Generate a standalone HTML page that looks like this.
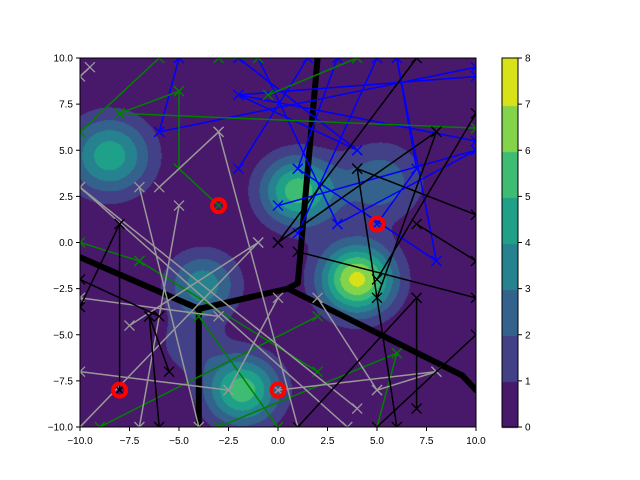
<!DOCTYPE html>
<html><head><meta charset="utf-8"><style>
body{margin:0;background:#fff;width:640px;height:480px;overflow:hidden;font-family:"Liberation Sans",sans-serif}
#wrap{position:relative;width:640px;height:480px}
canvas,svg{position:absolute;left:0;top:0}
</style></head><body>
<div id="wrap">
<canvas id="cv" width="640" height="480"></canvas>
<svg id="sv" width="640" height="480"></svg>
</div>
<script>
// ---- data ----
const blobX=[-8.5,1.0,5.2,4.0,-3.8,-1.8,-4.5];
const blobY=[4.7,2.8,3.3,-2.0,-2.3,-8.0,-5.5];
const blobAmp=[4.6,5.6,2.7,7.3,3.6,5.6,1.6];
const blobSig=[1.5,1.35,1.5,1.35,1.3,1.35,1.1];
const levels=[0,1,2,3,4,5,6,7,8];
const levelColors=["#48186a","#424086","#33638d","#26828e","#1fa088","#3fbc73","#84d44b","#d8e219"];
const xTicks=[-10,-7.5,-5,-2.5,0,2.5,5,7.5,10];
const yTicks=[-10,-7.5,-5,-2.5,0,2.5,5,7.5,10];
const cbTicks=[0,1,2,3,4,5,6,7,8];
const ridge=[[-10,-0.8,-4,-3.6],[-4,-3.6,-4,-10],[-4,-3.6,0.5,-2.5],[0.5,-2.5,1,-2.2],[1,-2.2,2,10],[0.5,-2.5,9.3,-7.2],[9.3,-7.2,10,-8]];
const segs=[
[-5,10,-6,6,"blue"],[-6,6,10,9.5,"blue"],[-2,8,10,5.5,"blue"],[-2,8,10,9,"blue"],[-2,4,1.5,10,"blue"],[1,4,3,10,"blue"],[0,2,10,5,"blue"],[3,1,-1,10,"blue"],[3,1,10,5,"blue"],[4,5,-2,10,"blue"],[5,1,7,4,"blue"],[7,4,6,10,"blue"],[8,-1,1,4,"blue"],[8,-1,6,10,"blue"],[-2,8,4,5,"blue"],[1,0.5,5,10,"blue"],
[-10,6,-6,10,"green"],[-8,7,10,6.2,"green"],[-8,7,-5,8.2,"green"],[-5,8.2,-5,4,"green"],[-5,4,-3,2,"green"],[-10,0,-7,-1,"green"],[-7,-1,2,-7,"green"],[-9,-10,2,-4,"green"],[-3,-10,6,-6,"green"],[6,-6,5,-10,"green"],[-4,-4,0,-10,"green"],[-0.5,8,4,10,"green"],[-3,10,-1,10,"green"],
[-10,3,3.5,-10,"grey"],[-10,3,4,-9,"grey"],[-6,3,-3,6,"grey"],[-3,6,1,-10,"grey"],[-5,2,-7,-10,"grey"],[-7.5,-4.5,-1,0,"grey"],[-10,-3,-3,-4,"grey"],[-10,-7,-2.5,-8,"grey"],[-2.5,-8,0,-3,"grey"],[0,-8,8,-7,"grey"],[8,-7,5,-8,"grey"],[5,-8,2,-3,"grey"],[-10,-10,-1,0,"grey"],[-7,3,-4,-10,"grey"],[-10,9,-9.5,9.5,"grey"],
[-8,1,-8,-8,"black"],[-10,-3.5,-8,1,"black"],[-10,-2,-6,-4,"black"],[-6.5,-4,-6,-10,"black"],[-6.5,-4,-5.5,-7,"black"],[0,0,8,6,"black"],[4,4,10,1.5,"black"],[8,6,5,-3,"black"],[1,-0.5,10,-3,"black"],[7,1,10,-1,"black"],[7,-3,7,-9,"black"],[7,-3,1,-10,"black"],[5,-2,10,7,"black"],[0,0,7,10,"black"],[10,-5,5,-10,"black"],[4,4,6,-10,"black"]
];
const redX=[-3,5,-8,0];
const redY=[2,1,-8,-8];
// ---- scales ----
const L=80,T=58,W=396,H=369;
const sx=x=>L+(x+10)/20*W, sy=y=>T+(10-y)/20*H;
// ---- contour ----
const ctx=document.getElementById('cv').getContext('2d');
function field(x,y){let v=0;for(let i=0;i<blobX.length;i++){const dx=x-blobX[i],dy=y-blobY[i];v+=blobAmp[i]*Math.exp(-(dx*dx+dy*dy)/(2*blobSig[i]*blobSig[i]));}return v;}
for(let px=L;px<L+W;px++)for(let py=T;py<T+H;py++){
 const x=(px+0.5-L)/W*20-10,y=10-(py+0.5-T)/H*20;
 const v=field(x,y);let k=0;while(k<levelColors.length-1&&v>=levels[k+1])k++;
 ctx.fillStyle=levelColors[k];ctx.fillRect(px,py,1,1);
}
const cbL=502,cbW=16;
for(let i=0;i<levelColors.length;i++){ctx.fillStyle=levelColors[i];const y0=T+H-(i+1)/8*H;ctx.fillRect(cbL,Math.floor(y0),cbW,Math.ceil(H/8)+1);}
// ---- svg ----
const sv=document.getElementById('sv');const NS="http://www.w3.org/2000/svg";
function mk(t,a,p){const e=document.createElementNS(NS,t);for(const k in a)e.setAttribute(k,a[k]);(p||sv).appendChild(e);return e;}
const clip=mk('clipPath',{id:'cp'});mk('rect',{x:L,y:T,width:W,height:H},clip);
const g=mk('g',{'clip-path':'url(#cp)'});


ridge.forEach(r=>{const e=mk('line',{x1:sx(r[0]),y1:sy(r[1]),x2:sx(r[2]),y2:sy(r[3]),stroke:'#000','stroke-width':6,'stroke-linecap':'round'},g);

});
function xm(x,y,c){const s=5;mk('path',{d:`M${x-s},${y-s}L${x+s},${y+s}M${x-s},${y+s}L${x+s},${y-s}`,stroke:c,'stroke-width':1.3,fill:'none'},g);}
segs.forEach(s=>{const e=mk('line',{x1:sx(s[0]),y1:sy(s[1]),x2:sx(s[2]),y2:sy(s[3]),stroke:s[4]=='grey'?'#999':s[4]=='green'?'#008000':s[4]=='blue'?'#0000ff':'#000','stroke-width':1.5},g);


const c=e.getAttribute('stroke');xm(sx(s[0]),sy(s[1]),c);xm(sx(s[2]),sy(s[3]),c);});
redX.forEach((x,i)=>{const e=mk('circle',{cx:sx(x),cy:sy(redY[i]),r:6.5,fill:'none',stroke:'#ff0000','stroke-width':4},g);

});
mk('rect',{x:L,y:T,width:W,height:H,fill:'none',stroke:'#000','stroke-width':1});
mk('rect',{x:cbL,y:T,width:cbW,height:H,fill:'none',stroke:'#000','stroke-width':1});
const fmt=v=>(v<0?'\u2212':'')+Math.abs(v).toFixed(1);
xTicks.forEach(v=>{const x=sx(v);mk('line',{x1:x,y1:T+H,x2:x,y2:T+H+4,stroke:'#000'});
const t=mk('text',{x:x,y:T+H+17,'font-size':10,'text-anchor':'middle'});t.textContent=fmt(v);

});
yTicks.forEach(v=>{const y=sy(v);mk('line',{x1:L-4,y1:y,x2:L,y2:y,stroke:'#000'});
const t=mk('text',{x:L-7,y:y+3.5,'font-size':10,'text-anchor':'end'});t.textContent=fmt(v);

});
cbTicks.forEach(v=>{const y=T+H-v/8*H;mk('line',{x1:cbL+cbW,y1:y,x2:cbL+cbW+4,y2:y,stroke:'#000'});
const t=mk('text',{x:cbL+cbW+7,y:y+3.5,'font-size':10});t.textContent=String(v);

});
</script>
</body></html>
